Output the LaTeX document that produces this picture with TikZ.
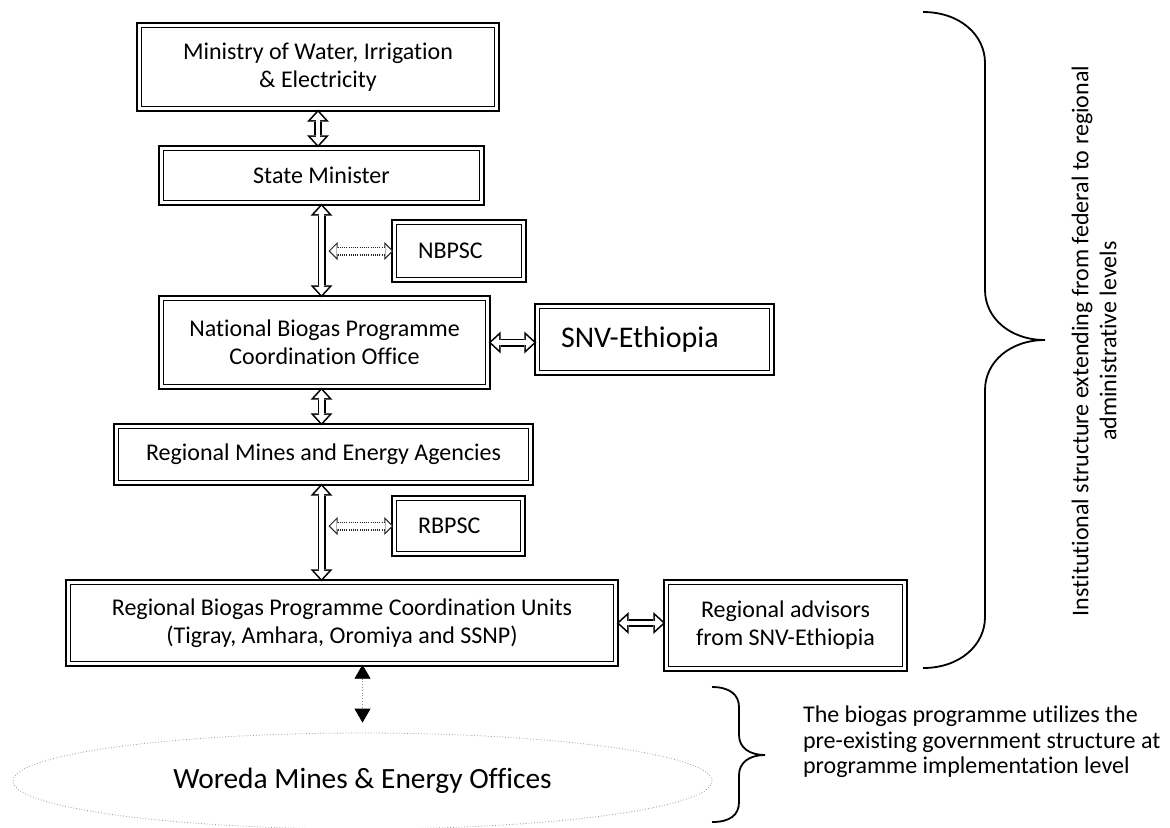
\documentclass[tikz,border=0pt]{standalone}
\usepackage{fontspec}
\setmainfont{Carlito}[Ligatures=NoCommon]
\usepackage{tikz}
\usetikzlibrary{arrows.meta, calc, shapes.geometric}
\tikzset{
  box/.style    ={draw, double, double distance=1.4pt, line width=0.9pt, inner sep=2pt, align=center, font=\fontsize{12}{14}\selectfont},
  lbox/.style   ={box, align=left, inner xsep=11.9pt},                      % text set to the left
  blk/.style    ={line width=4pt, {Triangle[length=6pt, width=11pt, line width=0pt]}-{Triangle[length=6pt, width=11pt, line width=0pt]},
                  postaction={draw=white, line width=2.4pt, shorten <=1.2pt, shorten >=1.2pt,
                  {Triangle[length=4pt, width=7.3pt, line width=0pt]}-{Triangle[length=4pt, width=7.3pt, line width=0pt]}}},   % hollow block arrow
  blkdot/.style ={line width=4.5pt, black!85, dash pattern=on 0.5pt off 0.6pt,
                  {Triangle[length=4.5pt, width=9pt, line width=0pt]}-{Triangle[length=4.5pt, width=9pt, line width=0pt]},
                  postaction={draw=white, solid, line width=3.4pt, shorten <=0.8pt, shorten >=0.8pt,
                  {Triangle[length=3.2pt, width=6.4pt, line width=0pt]}-{Triangle[length=3.2pt, width=6.4pt, line width=0pt]}}},  % dotted block arrow
  tri/.style    ={draw=black!45, densely dotted, line width=0.4pt, shorten >=5pt,
                  {Triangle[length=7pt, width=8pt, color=black]}-{Triangle[length=7pt, width=8pt, color=black]}},
  woreda/.style ={draw=black!40, densely dotted, line width=0.4pt, ellipse, inner sep=0pt,
                  minimum width=349.5pt, minimum height=48pt, font=\fontsize{14.7}{17}\selectfont},
  brc/.style    ={line width=0.9pt},
  note/.style   ={align=center, font=\fontsize{12}{14}\selectfont},
}

\begin{document}
\begin{tikzpicture}[x=0.5pt, y=0.5pt]
  \useasboundingbox (0,0) rectangle (1170,-827);

  % federal level
  \node[box, minimum width=178.8pt, minimum height=41.8pt] (mwie) at (318,-67) {Ministry of Water, Irrigation\\ \& Electricity};
  \node[box, minimum width=160.3pt, minimum height=27.3pt] (sm) at (321.5,-175.5) {State Minister};
  \node[lbox, text width=41pt, minimum height=28.8pt] (nbpsc) at (459,-251) {NBPSC};
  \node[box, minimum width=163.3pt, minimum height=44.3pt] (nbo) at (324.5,-342.5) {National Biogas Programme\\ Coordination Office};
  \node[lbox, text width=93.5pt, minimum height=33.3pt, font=\fontsize{15}{18}\selectfont] (snv) at (654.5,-339.5) {SNV-Ethiopia};

  % regional level
  \node[box, minimum width=207.3pt, minimum height=28.3pt] (rmea) at (323.5,-454.5) {Regional Mines and Energy Agencies};
  \node[lbox, text width=40.5pt, minimum height=27.8pt] (rbpsc) at (458.5,-526) {RBPSC};
  \node[box, minimum width=273.8pt, minimum height=40.8pt] (rbpcu) at (342,-623) {Regional Biogas Programme Coordination Units\\ (Tigray, Amhara, Oromiya and SSNP)};
  \node[box, minimum width=119.3pt, minimum height=43.3pt] (rasnv) at (785.5,-625.5) {Regional advisors\\ from SNV-Ethiopia};
  \node[woreda] (wmeo) at (362.5,-781) {Woreda Mines \& Energy Offices};

  % arrows
  \draw[blk] (mwie.south) -- (sm.north -| mwie.south);
  \draw[blk] (sm.south) -- (nbo.north -| sm.south);
  \draw[blk] (nbo.south -| sm.south) -- (rmea.north -| sm.south);
  \draw[blk] (rmea.south -| sm.south) -- (rbpcu.north -| sm.south);
  \draw[blkdot] ($(sm.south |- nbpsc.west)+(7,0)$) -- (nbpsc.west);
  \draw[blkdot] ($(sm.south |- rbpsc.west)+(7,0)$) -- (rbpsc.west);
  \draw[blk] (nbo.east) -- (snv.west |- nbo.east);
  \draw[blk] (rbpcu.east) -- (rasnv.west |- rbpcu.east);
  \draw[tri] (wmeo.north |- rbpcu.south) -- (wmeo.north);

  % braces and notes
  \draw[brc] (923,-12) .. controls (960,-12) and (985,-35) .. (985,-63) -- (985,-290)
             .. controls (985,-318) and (1010,-340) .. (1045,-340)
             .. controls (1010,-340) and (985,-362) .. (985,-390) -- (985,-617)
             .. controls (985,-645) and (960,-668) .. (923,-668);
  \node[note, rotate=90] (fedtxt) at (1094,-341) {Institutional structure extending from federal to regional\\ administrative levels};

  \draw[brc] (712,-687) .. controls (730,-687) and (739,-695) .. (739,-707) -- (739,-735)
             .. controls (739,-748) and (750,-755) .. (765,-755)
             .. controls (750,-755) and (739,-762) .. (739,-775) -- (739,-802)
             .. controls (739,-815) and (730,-822) .. (712,-822);
  \node[note, anchor=west, align=left, font=\fontsize{12}{12.8}\selectfont] (imptxt) at (796,-742) {The biogas programme utilizes the\\ pre-existing government structure at\\ programme implementation level};
\end{tikzpicture}
\end{document}
